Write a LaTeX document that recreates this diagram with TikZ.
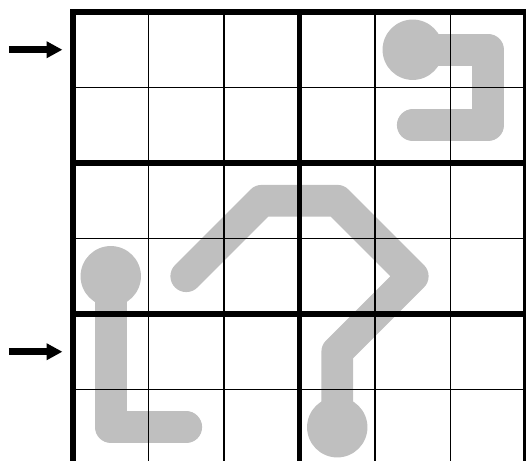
\documentclass[tikz,border=0pt]{standalone}
\usetikzlibrary{arrows.meta}
\definecolor{thermo}{gray}{0.75}

\begin{document}
\begin{tikzpicture}[x=1cm,y=1cm]
  \tikzstyle{cellline}=[line width=0.5pt]
  \tikzstyle{boxline}=[line width=1.9pt]
  \tikzstyle{tube}=[thermo,line width=0.42cm,line cap=round,line join=round]
  \tikzstyle{bulb}=[fill=thermo]
  \tikzstyle{marker}=[line width=2.6pt,-{Triangle[length=6pt,width=6pt]}]
  \useasboundingbox (-0.967,0.053) rectangle (6.0,6.159);
  \clip (-0.967,0.053) rectangle (6.0,6.159);
  % thermometers
  \draw[tube] (4.5,5.5) -- (5.5,5.5) -- (5.5,4.5) -- (4.5,4.5);
  \fill[bulb] (4.5,5.5) circle (0.4);
  \draw[tube] (0.5,2.5) -- (0.5,0.5) -- (1.5,0.5);
  \fill[bulb] (0.5,2.5) circle (0.4);
  \draw[tube] (1.5,2.5) -- (2.5,3.5) -- (3.5,3.5) -- (4.5,2.5) -- (3.5,1.5) -- (3.5,0.5);
  \fill[bulb] (3.5,0.5) circle (0.4);
  % grid
  \foreach \i in {1,2,4,5}
    \draw[cellline] (\i,0) -- (\i,6);
  \foreach \j in {1,3,5}
    \draw[cellline] (0,\j) -- (6,\j);
  \foreach \i in {3}
    \draw[boxline] (\i,0) -- (\i,6);
  \foreach \j in {2,4}
    \draw[boxline] (0,\j) -- (6,\j);
  \draw[boxline] (0,0) rectangle (6,6);
  % row markers
  \coordinate (m1) at (-0.14,5.5);
  \coordinate (m5) at (-0.14,1.5);
  \draw[marker] (-0.85,5.5) -- (m1);
  \draw[marker] (-0.85,1.5) -- (m5);
\end{tikzpicture}
\end{document}
